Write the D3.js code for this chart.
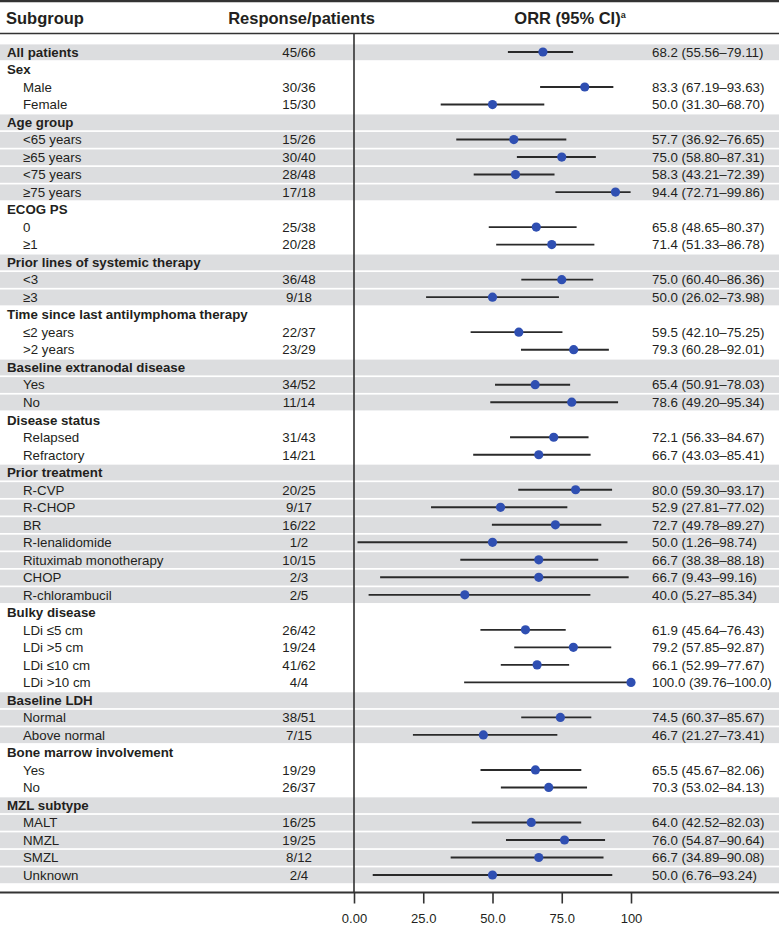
<!DOCTYPE html>
<html>
<head>
<meta charset="utf-8">
<script src="https://cdn.jsdelivr.net/npm/d3@7"></script>
<style>
  body { margin: 0; background: #fff; }
  svg { display: block; font-family: "Liberation Sans", Arial, sans-serif; }
</style>
</head>
<body>
<svg id="chart" width="779" height="929"></svg>
<script>
// ---------------- DATA ----------------
const labels = [
  "All patients",
  "Sex", "Male", "Female",
  "Age group", "<65 years", "≥65 years", "<75 years", "≥75 years",
  "ECOG PS", "0", "≥1",
  "Prior lines of systemic therapy", "<3", "≥3",
  "Time since last antilymphoma therapy", "≤2 years", ">2 years",
  "Baseline extranodal disease", "Yes", "No",
  "Disease status", "Relapsed", "Refractory",
  "Prior treatment", "R-CVP", "R-CHOP", "BR", "R-lenalidomide", "Rituximab monotherapy", "CHOP", "R-chlorambucil",
  "Bulky disease", "LDi ≤5 cm", "LDi >5 cm", "LDi ≤10 cm", "LDi >10 cm",
  "Baseline LDH", "Normal", "Above normal",
  "Bone marrow involvement", "Yes", "No",
  "MZL subtype", "MALT", "NMZL", "SMZL", "Unknown"
];
// 1 = bold group heading row, 0 = indented subgroup row
const isHeading = [
  1,
  1, 0, 0,
  1, 0, 0, 0, 0,
  1, 0, 0,
  1, 0, 0,
  1, 0, 0,
  1, 0, 0,
  1, 0, 0,
  1, 0, 0, 0, 0, 0, 0, 0,
  1, 0, 0, 0, 0,
  1, 0, 0,
  1, 0, 0,
  1, 0, 0, 0, 0
];
const shadedGroups = ["All patients", "Age group", "Prior lines of systemic therapy",
  "Baseline extranodal disease", "Prior treatment", "Baseline LDH", "MZL subtype"];
const responses = [
  "45/66",
  "", "30/36", "15/30",
  "", "15/26", "30/40", "28/48", "17/18",
  "", "25/38", "20/28",
  "", "36/48", "9/18",
  "", "22/37", "23/29",
  "", "34/52", "11/14",
  "", "31/43", "14/21",
  "", "20/25", "9/17", "16/22", "1/2", "10/15", "2/3", "2/5",
  "", "26/42", "19/24", "41/62", "4/4",
  "", "38/51", "7/15",
  "", "19/29", "26/37",
  "", "16/25", "19/25", "8/12", "2/4"
];
const orr = [
  68.2,
  null, 83.3, 50.0,
  null, 57.7, 75.0, 58.3, 94.4,
  null, 65.8, 71.4,
  null, 75.0, 50.0,
  null, 59.5, 79.3,
  null, 65.4, 78.6,
  null, 72.1, 66.7,
  null, 80.0, 52.9, 72.7, 50.0, 66.7, 66.7, 40.0,
  null, 61.9, 79.2, 66.1, 100.0,
  null, 74.5, 46.7,
  null, 65.5, 70.3,
  null, 64.0, 76.0, 66.7, 50.0
];
const ciLow = [
  55.56,
  null, 67.19, 31.30,
  null, 36.92, 58.80, 43.21, 72.71,
  null, 48.65, 51.33,
  null, 60.40, 26.02,
  null, 42.10, 60.28,
  null, 50.91, 49.20,
  null, 56.33, 43.03,
  null, 59.30, 27.81, 49.78, 1.26, 38.38, 9.43, 5.27,
  null, 45.64, 57.85, 52.99, 39.76,
  null, 60.37, 21.27,
  null, 45.67, 53.02,
  null, 42.52, 54.87, 34.89, 6.76
];
const ciHigh = [
  79.11,
  null, 93.63, 68.70,
  null, 76.65, 87.31, 72.39, 99.86,
  null, 80.37, 86.78,
  null, 86.36, 73.98,
  null, 75.25, 92.01,
  null, 78.03, 95.34,
  null, 84.67, 85.41,
  null, 93.17, 77.02, 89.27, 98.74, 88.18, 99.16, 85.34,
  null, 76.43, 92.87, 77.67, 100.0,
  null, 85.67, 73.41,
  null, 82.06, 84.13,
  null, 82.03, 90.64, 90.08, 93.24
];
const orrLabels = [
  "68.2 (55.56–79.11)",
  "", "83.3 (67.19–93.63)", "50.0 (31.30–68.70)",
  "", "57.7 (36.92–76.65)", "75.0 (58.80–87.31)", "58.3 (43.21–72.39)", "94.4 (72.71–99.86)",
  "", "65.8 (48.65–80.37)", "71.4 (51.33–86.78)",
  "", "75.0 (60.40–86.36)", "50.0 (26.02–73.98)",
  "", "59.5 (42.10–75.25)", "79.3 (60.28–92.01)",
  "", "65.4 (50.91–78.03)", "78.6 (49.20–95.34)",
  "", "72.1 (56.33–84.67)", "66.7 (43.03–85.41)",
  "", "80.0 (59.30–93.17)", "52.9 (27.81–77.02)", "72.7 (49.78–89.27)", "50.0 (1.26–98.74)",
  "66.7 (38.38–88.18)", "66.7 (9.43–99.16)", "40.0 (5.27–85.34)",
  "", "61.9 (45.64–76.43)", "79.2 (57.85–92.87)", "66.1 (52.99–77.67)", "100.0 (39.76–100.0)",
  "", "74.5 (60.37–85.67)", "46.7 (21.27–73.41)",
  "", "65.5 (45.67–82.06)", "70.3 (53.02–84.13)",
  "", "64.0 (42.52–82.03)", "76.0 (54.87–90.64)", "66.7 (34.89–90.08)", "50.0 (6.76–93.24)"
];
const tickValues = [0, 25, 50, 75, 100];
const tickLabels = ["0.00", "25.0", "50.0", "75.0", "100"];
const headers = ["Subgroup", "Response/patients", "ORR (95% CI)"];

// ---------------- DRAW ----------------
const W = 779, H = 929;
const svg = d3.select("#chart");
const textColor = "#231f20";
const bandColor = "#dcdddf";
const dotColor = "#2f4fb2";

const idx = d3.range(labels.length);
const y = d3.scalePoint().domain(idx).range([52, 875]);
const x = d3.scaleLinear().domain([0, 100]).range([354, 631]);

// determine shading by group
let shaded = false;
const rowShaded = idx.map(i => {
  if (isHeading[i]) shaded = shadedGroups.includes(labels[i]);
  return shaded;
});

// bands
svg.append("g").selectAll("rect")
  .data(idx.filter(i => rowShaded[i]))
  .join("rect")
  .attr("x", 0).attr("width", W)
  .attr("y", i => y(i) - 7.6)
  .attr("height", 15.8)
  .attr("fill", bandColor);

// top and header lines
svg.append("line").attr("x1", 0).attr("x2", W).attr("y1", 1.2).attr("y2", 1.2)
  .attr("stroke", "#333").attr("stroke-width", 2.2);
svg.append("line").attr("x1", 0).attr("x2", W).attr("y1", 33.5).attr("y2", 33.5)
  .attr("stroke", "#333").attr("stroke-width", 1.6);

// headers
const hdr = svg.append("g").attr("fill", textColor).attr("font-weight", "bold").attr("font-size", 16.5);
hdr.append("text").attr("x", 6).attr("y", 24).text(headers[0]);
hdr.append("text").attr("x", 301.5).attr("y", 24).attr("text-anchor", "middle").text(headers[1]);
const orrH = hdr.append("text").attr("x", 570).attr("y", 24).attr("text-anchor", "middle");
orrH.append("tspan").text(headers[2]);
orrH.append("tspan").attr("font-size", 9).attr("dy", -6).text("a");

// row labels
const rows = svg.append("g").attr("fill", textColor).attr("font-size", 13.3);
rows.selectAll("text.lab")
  .data(idx).join("text")
  .attr("class", "lab")
  .attr("x", i => isHeading[i] ? 7 : 23)
  .attr("y", i => y(i))
  .attr("dy", "0.36em")
  .attr("font-weight", i => isHeading[i] ? "bold" : "normal")
  .text(i => labels[i]);

rows.selectAll("text.resp")
  .data(idx.filter(i => responses[i] !== "")).join("text")
  .attr("class", "resp")
  .attr("x", 299)
  .attr("text-anchor", "middle")
  .attr("y", i => y(i))
  .attr("dy", "0.36em")
  .text(i => responses[i]);

rows.selectAll("text.orr")
  .data(idx.filter(i => orrLabels[i] !== "")).join("text")
  .attr("class", "orr")
  .attr("x", 652)
  .attr("y", i => y(i))
  .attr("dy", "0.36em")
  .text(i => orrLabels[i]);

// vertical reference line at 0
svg.append("line")
  .attr("x1", x(0)).attr("x2", x(0))
  .attr("y1", 33.5).attr("y2", 892)
  .attr("stroke", "#333").attr("stroke-width", 1.6);

// CI lines and dots
const dataIdx = idx.filter(i => orr[i] !== null);
svg.append("g").selectAll("line")
  .data(dataIdx).join("line")
  .attr("x1", i => x(ciLow[i])).attr("x2", i => x(ciHigh[i]))
  .attr("y1", i => y(i)).attr("y2", i => y(i))
  .attr("stroke", "#2a2a2a").attr("stroke-width", 1.9);
svg.append("g").selectAll("circle")
  .data(dataIdx).join("circle")
  .attr("cx", i => x(orr[i])).attr("cy", i => y(i))
  .attr("r", 4.6)
  .attr("fill", dotColor);

// bottom axis
svg.append("line").attr("x1", 0).attr("x2", W).attr("y1", 892.5).attr("y2", 892.5)
  .attr("stroke", "#333").attr("stroke-width", 1.8);
const axis = d3.axisBottom(x)
  .tickValues(tickValues)
  .tickFormat((d, i) => tickLabels[i])
  .tickSize(11)
  .tickPadding(10);
const ax = svg.append("g").attr("transform", "translate(0,892.5)").call(axis);
ax.select(".domain").remove();
ax.selectAll(".tick line").attr("stroke", "#333").attr("stroke-width", 1.6);
ax.selectAll(".tick text").attr("fill", textColor).attr("font-size", 13)
  .attr("font-family", "'Liberation Sans', Arial, sans-serif");
</script>
</body>
</html>
